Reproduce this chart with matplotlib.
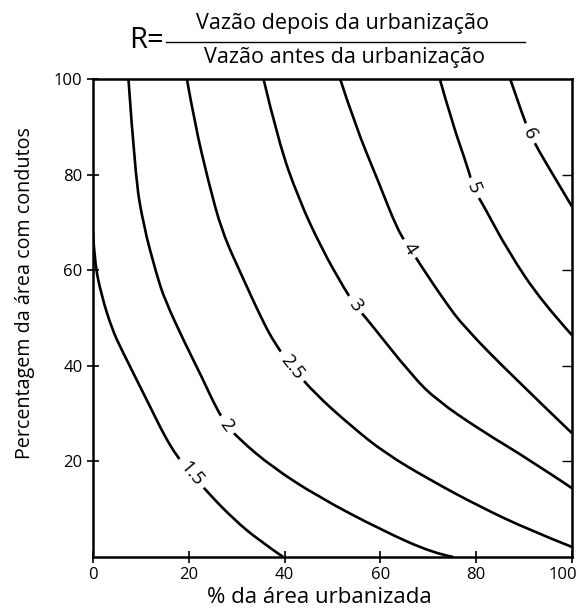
import matplotlib
matplotlib.use("Agg")
import matplotlib.pyplot as plt
import matplotlib.transforms as mtrans
import numpy as np
from matplotlib.lines import Line2D
from matplotlib.path import Path
from matplotlib.patches import PathPatch

plt.rcParams["font.family"] = ["Open Sans", "DejaVu Sans"]

# iso-lines of R
R15_X = [0, 0.3, 1.8, 4.0, 6.0, 10.9, 16.4, 20.6, 24.1, 29.6, 34.5, 39.7]
R15_Y = [68.1, 61.8, 54.6, 47.6, 43.3, 33.5, 22.4, 17.5, 13.3, 7.7, 3.6, 0]

R2_X = [7.4, 8.8, 10.5, 13.3, 15.0, 19.2, 22.6, 25.7, 27.9, 30.7, 37.3, 47.0, 60.3, 71.0, 75.2]
R2_Y = [100, 79.9, 69.5, 59.0, 53.8, 44.7, 37.9, 31.2, 27.6, 24.5, 18.9, 12.6, 5.6, 0.8, 0]

R25_X = [19.6, 21.3, 24.1, 26.9, 31.0, 35.3, 38.0, 41.5, 46.3, 54.0, 61.0, 70.4, 80.8, 91.2, 100]
R25_Y = [100, 90.4, 78.5, 68.1, 59.0, 49.6, 44.6, 39.8, 34.2, 27.3, 21.7, 16.1, 10.5, 5.6, 2.1]

R3_X = [35.6, 38.7, 42.9, 47.7, 52.6, 54.7, 57.1, 66.8, 71.8, 80.8, 91.2, 100]
R3_Y = [100, 86.9, 75.0, 64.6, 55.9, 52.7, 49.9, 37.7, 32.8, 26.6, 20.3, 14.4]

R4_X = [51.6, 54.7, 59.6, 63.7, 66.2, 67.9, 73.5, 77.5, 87.7, 100]
R4_Y = [100, 90.4, 78.5, 68.1, 64.6, 61.8, 53.4, 48.1, 37.7, 25.9]

R5_X = [72.4, 74.9, 78.4, 79.4, 81.5, 86.7, 93.7, 100]
R5_Y = [100, 91.1, 81.0, 77.1, 73.6, 63.9, 53.4, 46.4]

R6_X = [87.1, 89.8, 91.2, 93.0, 96.5, 100]
R6_Y = [100, 92.1, 88.6, 85.1, 79.2, 73.3]

LEVEL_LABELS = ["1.5", "2", "2.5", "3", "4", "5", "6"]
CURVES_X = [R15_X, R2_X, R25_X, R3_X, R4_X, R5_X, R6_X]
CURVES_Y = [R15_Y, R2_Y, R25_Y, R3_Y, R4_Y, R5_Y, R6_Y]
# index of the curve point where each label sits
LABEL_AT = [7, 8, 7, 5, 4, 3, 2]

X_TICKS = [0, 20, 40, 60, 80, 100]
Y_TICKS = [20, 40, 60, 80, 100]


def smooth_path(xs, ys):
    """Quadratic B-spline through the read points (drawing only)."""
    pts = list(zip(xs, ys))
    verts, codes = [pts[0]], [Path.MOVETO]
    for i in range(1, len(pts) - 1):
        if i == len(pts) - 2:
            end = pts[i + 1]
        else:
            end = ((pts[i][0] + pts[i + 1][0]) / 2, (pts[i][1] + pts[i + 1][1]) / 2)
        verts += [pts[i], end]
        codes += [Path.CURVE3, Path.CURVE3]
    return Path(verts, codes)


fig = plt.figure(figsize=(5.76, 6.14), dpi=100)
ax = fig.add_axes([93 / 576, 57 / 614, 479 / 576, 478 / 614])
ax.set_xlim(0, 100)
ax.set_ylim(0, 100)

for xs, ys in zip(CURVES_X, CURVES_Y):
    ax.add_patch(PathPatch(smooth_path(xs, ys), fill=False, ec="black",
                           lw=1.9, capstyle="butt", zorder=2))

for lab, xs, ys, i in zip(LEVEL_LABELS, CURVES_X, CURVES_Y, LABEL_AT):
    p0 = ax.transData.transform((xs[i - 1], ys[i - 1]))
    p1 = ax.transData.transform((xs[i + 1], ys[i + 1]))
    ang = np.degrees(np.arctan2(p1[1] - p0[1], p1[0] - p0[0]))
    ax.text(xs[i], ys[i], lab, fontsize=13.5, rotation=ang,
            rotation_mode="anchor", ha="center", va="center", zorder=3,
            bbox=dict(boxstyle="square,pad=0.3", fc="white", ec="none"))

for s in ax.spines.values():
    s.set_linewidth(1.8)

ax.set_xticks(X_TICKS)
ax.set_yticks(Y_TICKS)
ax.tick_params(direction="inout", length=9, width=1.2, labelsize=12, pad=3)
sec = ax.secondary_yaxis("right")
sec.set_yticks([20, 40, 60, 80])
sec.tick_params(direction="in", length=7, width=1.0, labelright=False)
sec.spines["right"].set_visible(False)

# keep the last x tick label inside the canvas
last = ax.get_xticklabels()[-1]
last.set_transform(last.get_transform()
                   + mtrans.ScaledTranslation(-0.09, 0, fig.dpi_scale_trans))

ax.set_xlabel("% da área urbanizada", fontsize=16)
ax.xaxis.set_label_coords(0.472, -0.062)
ax.set_ylabel("Percentagem da área com condutos", fontsize=14.2)
ax.yaxis.set_label_coords(-0.122, 0.552)

# title as a fraction
fig.text(146 / 576, 1 - 40 / 614, "R=", fontsize=21, ha="center", va="center")
fig.add_artist(Line2D([166 / 576, 525 / 576], [1 - 42 / 614, 1 - 42 / 614],
                      transform=fig.transFigure, color="black", lw=1.0))
fig.text(343 / 576, 1 - 24 / 614, "Vazão depois da urbanização",
         fontsize=15.5, ha="center", va="center")
fig.text(345 / 576, 1 - 58 / 614, "Vazão antes da urbanização",
         fontsize=15.5, ha="center", va="center")

fig.savefig("out.png", dpi=100)
